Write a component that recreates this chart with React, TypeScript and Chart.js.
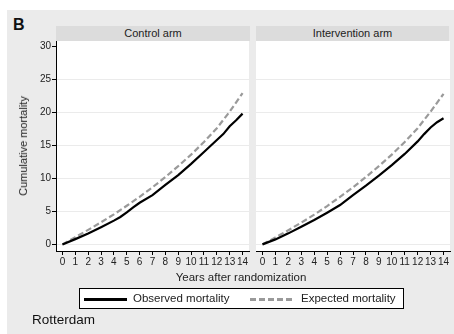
import React, { useEffect, useRef } from "react";
import { Chart, registerables } from "chart.js";

Chart.register(...registerables);

// Cumulative mortality (%) by years after randomization
const controlObservedYears = [0, 1, 2, 3, 4, 4.5, 5, 5.5, 6, 7, 8, 9, 10, 11, 12, 12.5, 13, 13.5, 14];
const controlObserved = [0, 0.8, 1.65, 2.6, 3.6, 4.15, 4.85, 5.6, 6.3, 7.45, 9.0, 10.5, 12.2, 14.0, 15.8, 16.7, 17.9, 18.8, 19.8];
const expectedYears = [0, 1, 2, 3, 4, 5, 6, 7, 8, 9, 10, 11, 12, 13, 14];
const controlExpected = [0, 1.1, 2.2, 3.35, 4.55, 5.85, 7.2, 8.65, 10.2, 11.85, 13.6, 15.5, 17.6, 20.1, 22.9];
const interventionObservedYears = [0, 1, 2, 3, 4, 5, 6, 7, 8, 9, 10, 11, 12, 12.5, 13, 13.5, 14];
const interventionObserved = [0, 0.76, 1.67, 2.68, 3.69, 4.8, 5.96, 7.47, 8.9, 10.4, 12.0, 13.7, 15.6, 16.7, 17.7, 18.5, 19.1];
const interventionExpected = [0, 1.05, 2.15, 3.3, 4.5, 5.8, 7.2, 8.65, 10.2, 11.85, 13.6, 15.5, 17.6, 20.1, 22.8];

const xTickValues = [0, 1, 2, 3, 4, 5, 6, 7, 8, 9, 10, 11, 12, 13, 14];
const yTickValues = [0, 5, 10, 15, 20, 25, 30];

const FONT = "'Liberation Sans', Arial, Helvetica, sans-serif";
const PANEL_BG = "#ebebeb";
const STRIP_BG = "#dcdcdc";

const whiteArea = {
  id: "whiteArea",
  beforeDraw(chart: any) {
    const { ctx, chartArea } = chart;
    ctx.save();
    ctx.fillStyle = "#ffffff";
    ctx.fillRect(chartArea.left, chartArea.top, chartArea.right - chartArea.left, chartArea.bottom - chartArea.top);
    ctx.restore();
  },
};

type PanelProps = {
  left: number;
  width: number;
  padLeft: number;
  padRight: number;
  showY: boolean;
  obsYears: number[];
  obs: number[];
  expYears: number[];
  exp: number[];
};

function Panel(p: PanelProps) {
  const ref = useRef<HTMLCanvasElement | null>(null);
  useEffect(() => {
    if (!ref.current) return;
    const chart = new Chart(ref.current, {
      type: "line",
      data: {
        datasets: [
          {
            label: "Observed mortality",
            data: p.obsYears.map((x, i) => ({ x, y: p.obs[i] })),
            borderColor: "#000000",
            borderWidth: 2.2,
            pointRadius: 0,
            tension: 0,
            order: 0,
          },
          {
            label: "Expected mortality",
            data: p.expYears.map((x, i) => ({ x, y: p.exp[i] })),
            borderColor: "#9a9a9a",
            borderWidth: 2.2,
            borderDash: [6, 3],
            pointRadius: 0,
            tension: 0,
            order: 1,
          },
        ],
      },
      options: {
        responsive: false,
        animation: false,
        devicePixelRatio: 1,
        layout: { padding: { left: p.padLeft, right: p.padRight, top: 15, bottom: 5 } },
        plugins: { legend: { display: false }, tooltip: { enabled: false }, title: { display: false } },
        scales: {
          x: {
            type: "linear",
            min: -0.5,
            max: 14.5,
            afterBuildTicks: (s: any) => {
              s.ticks = xTickValues.map((v) => ({ value: v }));
            },
            afterFit: (s: any) => {
              s.height = 20;
              s.paddingLeft = 0;
              s.paddingRight = 0;
            },
            grid: { drawOnChartArea: false, drawTicks: true, tickLength: 4, tickColor: "#000000", tickWidth: 1 },
            border: { display: true, color: "#000000", width: 1 },
            ticks: {
              autoSkip: false,
              maxRotation: 0,
              padding: 1,
              color: "#222222",
              font: { family: FONT, size: 10 },
            },
          },
          y: {
            type: "linear",
            min: -1,
            max: 30.8,
            afterBuildTicks: (s: any) => {
              s.ticks = yTickValues.map((v) => ({ value: v }));
            },
            afterFit: (s: any) => {
              s.width = p.showY ? 46 : 0;
              s.paddingTop = 0;
              s.paddingBottom = 0;
            },
            grid: {
              color: (ctx: any) => (ctx.tick && ctx.tick.value === 30 ? "rgba(0,0,0,0)" : "#ebebeb"),
              drawTicks: p.showY,
              tickLength: 4,
              tickColor: "#000000",
              tickWidth: 1,
            },
            border: { display: p.showY, color: "#000000", width: 1 },
            ticks: {
              display: p.showY,
              padding: 1,
              color: "#222222",
              font: { family: FONT, size: 10 },
            },
          },
        },
      },
      plugins: [whiteArea],
    } as any);
    return () => chart.destroy();
  }, []);
  return (
    <canvas
      ref={ref}
      width={p.width}
      height={250}
      style={{ position: "absolute", left: p.left, top: 26, width: p.width, height: 250 }}
    />
  );
}

function Strip({ left, width, text }: { left: number; width: number; text: string }) {
  return (
    <div
      style={{
        position: "absolute",
        left,
        top: 26,
        width,
        height: 15,
        background: STRIP_BG,
        color: "#222",
        fontFamily: FONT,
        fontSize: 11,
        lineHeight: "15px",
        textAlign: "center",
      }}
    >
      {text}
    </div>
  );
}

export default function App() {
  return (
    <div style={{ position: "absolute", left: 0, top: 0, width: 454, height: 334, background: "#ffffff", overflow: "hidden" }}>
      <div style={{ position: "absolute", left: 7, top: 10, right: 0, bottom: 0, background: PANEL_BG }} />
      <div
        style={{
          position: "absolute",
          left: 13,
          top: 16,
          fontFamily: FONT,
          fontWeight: "bold",
          fontSize: 16,
          lineHeight: "18px",
          color: "#111",
        }}
      >
        B
      </div>
      <Strip left={56} width={194} text="Control arm" />
      <Strip left={256} width={193} text="Intervention arm" />
      <Panel
        left={0}
        width={250}
        padLeft={10}
        padRight={1}
        showY={true}
        obsYears={controlObservedYears}
        obs={controlObserved}
        expYears={expectedYears}
        exp={controlExpected}
      />
      <Panel
        left={250}
        width={204}
        padLeft={6}
        padRight={4}
        showY={false}
        obsYears={interventionObservedYears}
        obs={interventionObserved}
        expYears={expectedYears}
        exp={interventionExpected}
      />
      <div
        style={{
          position: "absolute",
          left: 23,
          top: 146,
          transform: "translate(-50%, -50%) rotate(-90deg)",
          whiteSpace: "nowrap",
          fontFamily: FONT,
          fontSize: 11,
          color: "#222",
        }}
      >
        Cumulative mortality
      </div>
      <div
        style={{
          position: "absolute",
          left: 241,
          top: 277,
          transform: "translate(-50%, -50%)",
          whiteSpace: "nowrap",
          fontFamily: FONT,
          fontSize: 11.5,
          color: "#222",
        }}
      >
        Years after randomization
      </div>
      <div
        style={{
          position: "absolute",
          left: 79,
          top: 288,
          width: 323,
          height: 19,
          border: "1px solid #000",
          background: "#ffffff",
          fontFamily: FONT,
          fontSize: 11.5,
          color: "#222",
        }}
      >
        <div style={{ position: "absolute", left: 4, top: 9, width: 43, height: 3, background: "#000" }} />
        <div style={{ position: "absolute", left: 53, top: 2, lineHeight: "15px", whiteSpace: "nowrap" }}>Observed mortality</div>
        <div
          style={{
            position: "absolute",
            left: 170,
            top: 9,
            width: 43,
            height: 3,
            background: "repeating-linear-gradient(90deg, #9a9a9a 0px, #9a9a9a 6px, transparent 6px, transparent 9px)",
          }}
        />
        <div style={{ position: "absolute", left: 221, top: 2, lineHeight: "15px", whiteSpace: "nowrap" }}>Expected mortality</div>
      </div>
      <div
        style={{
          position: "absolute",
          left: 32,
          top: 312,
          fontFamily: FONT,
          fontSize: 13.5,
          lineHeight: "16px",
          color: "#111",
        }}
      >
        Rotterdam
      </div>
    </div>
  );
}
